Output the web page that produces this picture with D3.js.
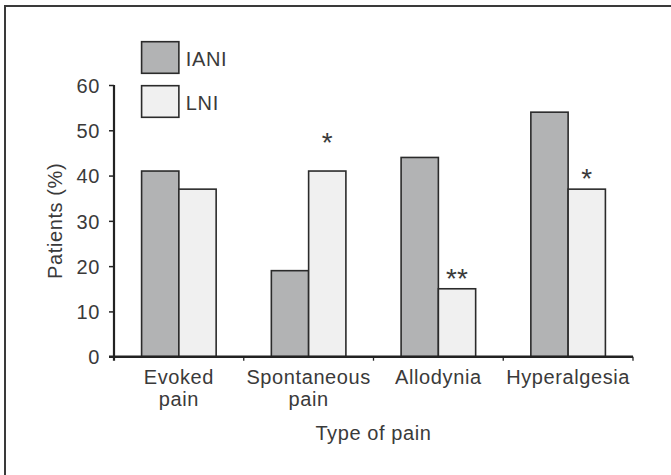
<!DOCTYPE html>
<html>
<head>
<meta charset="utf-8">
<script src="https://cdn.jsdelivr.net/npm/d3@7"></script>
<style type="text/css">
    body {
        margin: 0;
        background: #fff;
    }

    text {
        font-family: "Liberation Sans", Arial, sans-serif;
        font-size: 20px;
        letter-spacing: 0.6px;
        fill: #3a3a3a;
    }

    .star {
        font-size: 28px;
        letter-spacing: 0;
    }

    .bar {
        stroke: #2b2b2b;
        stroke-width: 1.6;
    }
</style>
</head>
<body>
<script type="text/javascript">

    // data
    var categories = [["Evoked", "pain"], ["Spontaneous", "pain"], ["Allodynia"], ["Hyperalgesia"]];
    var series = ["IANI", "LNI"];
    var iani = [41, 19, 44, 54];
    var lni = [37, 41, 15, 37];
    var starText = ["", "*", "**", "*"];
    var starLevel = [null, 45, 15, 37];
    var yTicks = [0, 10, 20, 30, 40, 50, 60];

    var colors = { IANI: "#b2b3b4", LNI: "#f0f0f0" };

    var width = 671, height = 475;

    var svg = d3.select("body").append("svg")
        .attr("width", width)
        .attr("height", height);

    // outer frame (runs off the right and bottom of the picture)
    svg.append("path")
        .attr("d", "M5,480 L5,6 L680,6")
        .attr("fill", "none")
        .attr("stroke", "#3a3a3a")
        .attr("stroke-width", 2);

    var keys = categories.map(function (c) { return c.join(" "); });

    var x = d3.scaleBand()
        .domain(keys)
        .range([114, 633]);

    var x1 = d3.scaleBand()
        .domain(series)
        .range([27.6, x.bandwidth() - 27.6]);

    var y = d3.scaleLinear()
        .domain([0, 60])
        .range([356.7, 85]);

    var rows = keys.map(function (k, i) {
        return { key: k, IANI: iani[i], LNI: lni[i] };
    });

    // bars
    var groups = svg.append("g")
        .selectAll("g")
        .data(rows)
        .enter().append("g")
        .attr("transform", function (d) { return "translate(" + x(d.key) + ",0)"; });

    groups.selectAll("rect")
        .data(function (d) { return series.map(function (s) { return { s: s, v: d[s] }; }); })
        .enter().append("rect")
        .attr("class", "bar")
        .attr("x", function (d) { return x1(d.s); })
        .attr("width", x1.bandwidth())
        .attr("y", function (d) { return y(d.v); })
        .attr("height", function (d) { return y(0) - y(d.v); })
        .style("fill", function (d) { return colors[d.s]; });

    // significance stars above LNI bars
    svg.append("g")
        .selectAll("text")
        .data(keys.filter(function (k, i) { return starText[i]; }))
        .enter().append("text")
        .attr("class", "star")
        .attr("text-anchor", "middle")
        .attr("x", function (k) { return x(k) + x1("LNI") + x1.bandwidth() / 2; })
        .attr("y", function (k) { return y(starLevel[keys.indexOf(k)]) - 1; })
        .text(function (k) { return starText[keys.indexOf(k)]; });

    // y axis
    var yAxis = svg.append("g")
        .attr("transform", "translate(114,0)")
        .call(d3.axisLeft(y).tickValues(yTicks).tickSize(5).tickPadding(9));
    yAxis.select(".domain")
        .attr("d", "M0," + y(60) + "V" + (y(0) + 4))
        .attr("stroke", "#222")
        .attr("stroke-width", 2.2);
    yAxis.selectAll(".tick line").attr("stroke", "#222").attr("stroke-width", 1.5);
    yAxis.selectAll(".tick text")
        .attr("font-size", null)
        .attr("font-family", null)
        .attr("fill", null)
        .attr("dy", "0.36em");

    // x axis
    var xg = svg.append("g");
    xg.append("line")
        .attr("x1", 109).attr("x2", 633)
        .attr("y1", y(0)).attr("y2", y(0))
        .attr("stroke", "#222")
        .attr("stroke-width", 2.4);
    xg.selectAll(".xt")
        .data(keys.slice(1).map(function (k) { return x(k); }).concat([x.range()[1]]))
        .enter().append("line")
        .attr("x1", function (d) { return d; })
        .attr("x2", function (d) { return d; })
        .attr("y1", y(0))
        .attr("y2", y(0) + 4)
        .attr("stroke", "#222")
        .attr("stroke-width", 1.3);

    var labels = xg.selectAll(".xl")
        .data(categories)
        .enter().append("text")
        .attr("text-anchor", "middle")
        .attr("transform", function (c, i) { return "translate(" + (x(keys[i]) + x.bandwidth() / 2) + ",384)"; });
    labels.selectAll("tspan")
        .data(function (c) { return c; })
        .enter().append("tspan")
        .attr("x", 0)
        .attr("y", function (t, j) { return j * 22; })
        .text(function (t) { return t; });

    // axis titles
    svg.append("text")
        .attr("text-anchor", "middle")
        .attr("transform", "translate(62," + ((y(0) + y(60)) / 2) + ") rotate(-90)")
        .text("Patients (%)");

    svg.append("text")
        .attr("text-anchor", "middle")
        .attr("x", (114 + 633) / 2)
        .attr("y", 440)
        .text("Type of pain");

    // legend
    var legend = svg.append("g")
        .selectAll("g")
        .data(series)
        .enter().append("g")
        .attr("transform", function (s, i) { return "translate(" + (x(keys[0]) + x1("IANI")) + "," + (41.7 + i * 44) + ")"; });
    legend.append("rect")
        .attr("class", "bar")
        .attr("width", x1.bandwidth())
        .attr("height", 31.6)
        .style("fill", function (s) { return colors[s]; });
    legend.append("text")
        .attr("x", x1.bandwidth() + 7)
        .attr("y", 24.5)
        .text(function (s) { return s; });

</script>
</body>
</html>
